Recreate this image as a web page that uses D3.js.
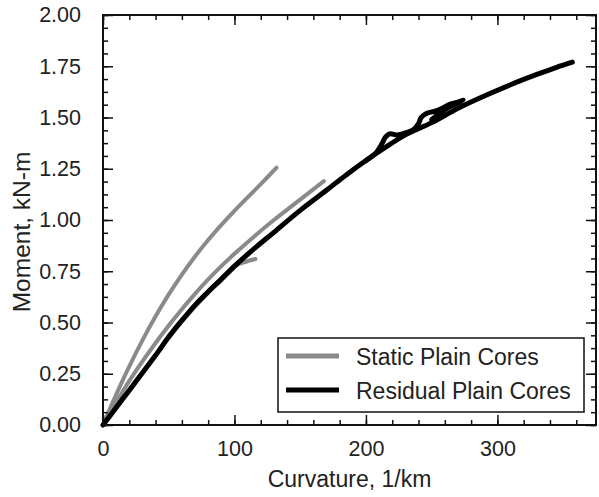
<!DOCTYPE html>
<html>
<head>
<meta charset="utf-8">
<script src="https://cdn.jsdelivr.net/npm/d3@7"></script>
<style>
    body { margin: 0; background: #fff; }
    text { font-family: "Liberation Sans", Arial, sans-serif; fill: #222; }
</style>
</head>
<body>
<script>
// curvature (1/km) and moment (kN-m)
const staticA_curv = [0, 10, 20, 30, 40, 50, 60, 70, 80, 90, 100, 110, 120, 132];
const staticA_mom = [0, 0.148, 0.286, 0.413, 0.53, 0.637, 0.734, 0.822, 0.902, 0.976, 1.045, 1.11, 1.175, 1.255];

const staticB_curv = [0, 10, 20, 30, 40, 50, 60, 70, 80, 90, 100, 115, 130, 145, 158, 168];
const staticB_mom = [0, 0.11, 0.215, 0.31, 0.40, 0.485, 0.565, 0.64, 0.71, 0.775, 0.835, 0.92, 1.0, 1.075, 1.14, 1.19];

const staticC_curv = [0, 20, 40, 60, 80, 90, 97, 102, 108, 113, 116];
const staticC_mom = [0, 0.165, 0.34, 0.505, 0.645, 0.705, 0.75, 0.78, 0.795, 0.805, 0.81];

const residualA_curv = [0, 10, 20, 30, 40, 50, 60, 70, 80, 90, 100, 115, 130, 150, 170, 185, 200, 215, 230, 250, 270, 290, 310, 330, 345, 357];
const residualA_mom = [0, 0.085, 0.17, 0.255, 0.34, 0.43, 0.51, 0.585, 0.65, 0.712, 0.775, 0.86, 0.94, 1.047, 1.145, 1.22, 1.29, 1.355, 1.415, 1.475, 1.545, 1.605, 1.66, 1.71, 1.745, 1.77];

const residualB_curv = [200, 208, 212, 215, 218, 224, 230, 236, 240, 242, 246, 252, 258, 264, 270, 274, 270, 263, 257, 253, 250];
const residualB_mom = [1.29, 1.33, 1.37, 1.405, 1.42, 1.415, 1.425, 1.44, 1.47, 1.50, 1.52, 1.53, 1.545, 1.565, 1.575, 1.585, 1.57, 1.55, 1.525, 1.505, 1.49];

const xTicks = [0, 100, 200, 300];
const yTicks = [0, 0.25, 0.5, 0.75, 1, 1.25, 1.5, 1.75, 2];

const series = [
    {curv: staticA_curv, mom: staticA_mom, color: "#8a8a8a", width: 4},
    {curv: staticB_curv, mom: staticB_mom, color: "#8a8a8a", width: 4},
    {curv: staticC_curv, mom: staticC_mom, color: "#8a8a8a", width: 4},
    {curv: residualA_curv, mom: residualA_mom, color: "#000", width: 5},
    {curv: residualB_curv, mom: residualB_mom, color: "#000", width: 5}
];

const legendItems = [
    {label: "Static Plain Cores", color: "#8a8a8a"},
    {label: "Residual Plain Cores", color: "#000"}
];

(function () {
    const width = 599;
    const height = 497;
    const margin = {top: 15, right: 3, bottom: 72, left: 103};
    const w = width - margin.left - margin.right;
    const h = height - margin.top - margin.bottom;

    let svg = d3.select("body")
        .append("svg")
        .attr("width", width)
        .attr("height", height)
        .append("g")
        .attr("transform", `translate(${margin.left}, ${margin.top})`);

    let x = d3.scaleLinear().domain([0, 375]).range([0, w]);
    let y = d3.scaleLinear().domain([0, 2]).range([h, 0]);

    let line = d3.line()
        .curve(d3.curveCatmullRom)
        .x(d => x(d[0]))
        .y(d => y(d[1]));

    svg.selectAll(".curve")
        .data(series)
        .enter()
        .append("path")
        .attr("class", "curve")
        .attr("d", s => line(s.curv.map((c, i) => [c, s.mom[i]])))
        .attr("fill", "none")
        .attr("stroke", s => s.color)
        .attr("stroke-width", s => s.width)
        .attr("stroke-linejoin", "round")
        .attr("stroke-linecap", "round");

    // ticks point inward on every side
    let xMinor = d3.range(0, 376, 20);
    let yMinor = d3.range(0, 2.001, 0.0625);

    const styleAxis = g => {
        g.select(".domain").remove();
        g.selectAll(".tick line").attr("stroke", "#111").attr("stroke-width", 1.5);
    };

    svg.append("g")
        .attr("transform", `translate(0, ${h})`)
        .call(d3.axisBottom(x).tickValues(xMinor).tickSize(-5).tickFormat(""))
        .call(styleAxis);
    svg.append("g")
        .call(d3.axisTop(x).tickValues(xMinor).tickSize(-5).tickFormat(""))
        .call(styleAxis);
    svg.append("g")
        .call(d3.axisLeft(y).tickValues(yMinor).tickSize(-5).tickFormat(""))
        .call(styleAxis);
    svg.append("g")
        .attr("transform", `translate(${w}, 0)`)
        .call(d3.axisRight(y).tickValues(yMinor).tickSize(-5).tickFormat(""))
        .call(styleAxis);

    svg.append("g")
        .attr("transform", `translate(0, ${h})`)
        .call(d3.axisBottom(x).tickValues(xTicks).tickSize(-10).tickPadding(16))
        .call(styleAxis)
        .selectAll("text")
        .style("font-size", "21.5px");
    svg.append("g")
        .call(d3.axisTop(x).tickValues(xTicks).tickSize(-10).tickFormat(""))
        .call(styleAxis);
    svg.append("g")
        .call(d3.axisLeft(y).tickValues(yTicks).tickSize(-10).tickPadding(22).tickFormat(d3.format(".2f")))
        .call(styleAxis)
        .selectAll("text")
        .style("font-size", "21.5px");
    svg.append("g")
        .attr("transform", `translate(${w}, 0)`)
        .call(d3.axisRight(y).tickValues(yTicks).tickSize(-10).tickFormat(""))
        .call(styleAxis);

    svg.append("rect")
        .attr("width", w)
        .attr("height", h)
        .attr("fill", "none")
        .attr("stroke", "#111")
        .attr("stroke-width", 2);

    svg.append("text")
        .attr("x", w / 2)
        .attr("y", h + 62)
        .attr("text-anchor", "middle")
        .style("font-size", "23px")
        .text("Curvature, 1/km");

    svg.append("text")
        .attr("transform", `translate(-73, ${217}) rotate(-90)`)
        .attr("text-anchor", "middle")
        .style("font-size", "24.5px")
        .text("Moment, kN-m");

    // legend
    let legend = svg.append("g")
        .attr("transform", `translate(${278 - margin.left}, ${338 - margin.top})`);

    legend.append("rect")
        .attr("width", 306)
        .attr("height", 74)
        .attr("fill", "#fff")
        .attr("stroke", "#111")
        .attr("stroke-width", 1.5);

    let rows = legend.selectAll(".row")
        .data(legendItems)
        .enter()
        .append("g")
        .attr("class", "row")
        .attr("transform", (d, i) => `translate(0, ${18 + i * 34})`);

    rows.append("line")
        .attr("x1", 8)
        .attr("x2", 61)
        .attr("stroke", d => d.color)
        .attr("stroke-width", 5);

    rows.append("text")
        .attr("x", 78)
        .attr("y", 9)
        .style("font-size", "23px")
        .text(d => d.label);
})();
</script>
</body>
</html>
